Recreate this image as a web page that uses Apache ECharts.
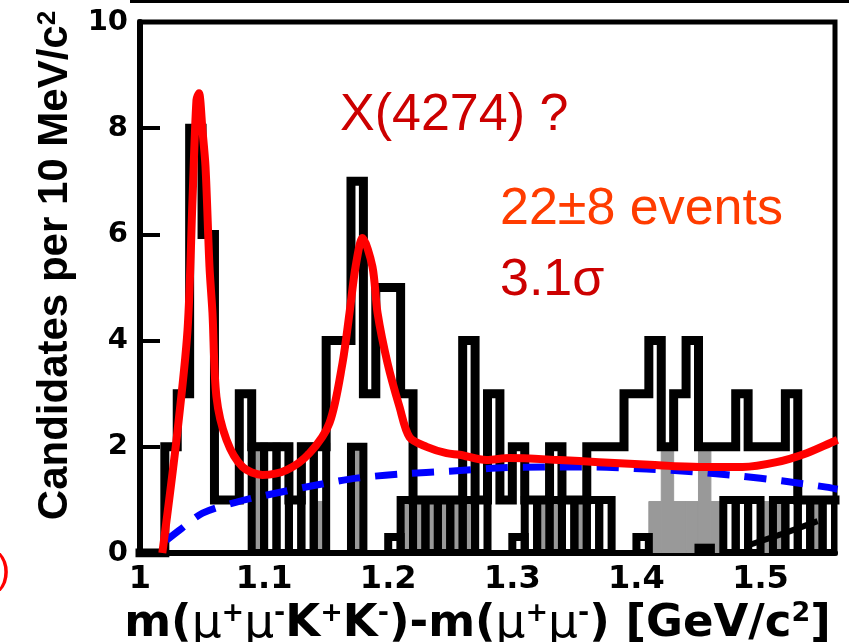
<!DOCTYPE html>
<html><head><meta charset="utf-8">
<script src="https://cdn.jsdelivr.net/npm/echarts@6/dist/echarts.min.js"></script>
<style>html,body{margin:0;padding:0;background:#fff}#c{width:849px;height:642px}</style>
</head><body><div id="c"></div><script>
// bins of 10 MeV/c^2 (lower edges, GeV/c^2)
const binLow = [1.00,1.01,1.02,1.03,1.04,1.05,1.06,1.07,1.08,1.09,
  1.10,1.11,1.12,1.13,1.14,1.15,1.16,1.17,1.18,1.19,
  1.20,1.21,1.22,1.23,1.24,1.25,1.26,1.27,1.28,1.29,
  1.30,1.31,1.32,1.33,1.34,1.35,1.36,1.37,1.38,1.39,
  1.40,1.41,1.42,1.43,1.44,1.45,1.46,1.47,1.48,1.49,
  1.50,1.51,1.52,1.53,1.54,1.55];
const binWidth = 0.01;
// candidates (black step histogram)
const totalCounts = [0,0,2,3,8,6,1,1,3,2,
  2,2,1,2,2,4,4,7,3,5,
  5,3,1,1,1,1,4,1,3,1,
  2,1,1,2,1,1,2,2,2,3,
  3,4,2,3,4,2,2,2,3,2,
  2,2,3,1,1,1];
// second (outlined bar) histogram
const subsetCounts = [0,0,0,0,0,0,0,0,0,2,
  2,2,1,2,2,0,0,2,0,0,
  0.3,1,1,1,1,1,1,1,0,0,
  0.3,1,1,1,1,1,1,1,0,0,
  0.3,0,0,0,0,0.1,0,1,1,1,
  0,1,1,1,1,1];
// sideband (grey filled histogram)
const sidebandCounts = [0,0,0,0,0,0,0,0,0,1.94,
  0,0,0,0,0.97,0,0,1.94,0,0,
  0,0.97,0.97,0.97,0.97,0.97,0.97,0,0,0,
  0,0,0.97,0.97,0,0.97,0,0,0,0,
  0,0.97,1.94,0.97,0.97,1.94,0.97,0,0,0,
  0.97,0.97,0,0,0.97,0];
// total fit (red)
const fitMass = [1.018,1.0294,1.0383,1.0423,1.0455,1.0475,1.0503,1.0528,1.056,1.0584,1.0616,1.0697,1.0826,1.0987,1.118,1.1366,1.1527,1.1632,1.1688,1.1737,1.1793,1.1873,1.1914,1.1994,1.2091,1.2172,1.231,1.247,1.2575,1.2792,1.2978,1.338,1.37,1.4106,1.4509,1.4855,1.5129,1.5371,1.558,1.562];
const fitValue = [0,2.13,4.2,6.65,8.53,8.66,7.97,7.27,5.39,4.52,2.94,2.13,1.62,1.47,1.56,1.88,2.45,3.58,4.52,5.39,5.93,5.39,4.52,3.58,2.75,2.18,2.0,1.88,1.85,1.75,1.79,1.75,1.71,1.66,1.62,1.62,1.71,1.88,2.09,2.13];
// background (blue dashed)
const bkgMass = [1.0214,1.0318,1.0504,1.0778,1.11,1.1423,1.1745,1.2115,1.2494,1.2873,1.3275,1.3646,1.4081,1.4452,1.4831,1.5169,1.5532,1.562];
const bkgValue = [0.24,0.43,0.75,0.96,1.13,1.28,1.41,1.49,1.54,1.6,1.62,1.62,1.58,1.53,1.45,1.36,1.24,1.2];
// black component at high mass
const reflMass = [1.492,1.520,1.546];
const reflValue = [0.16,0.38,0.6];
const xTickLabels = ['1','1.1','1.2','1.3','1.4','1.5'];

function histItem(style){
  return function(params, api){
    const lo = api.value(0), hi = api.value(1), v = api.value(2);
    if (!(v > 0)) return null;
    const p0 = api.coord([lo, v]);
    const p1 = api.coord([hi, 0]);
    return {type:'rect', shape:{x:p0[0], y:p0[1], width:p1[0]-p0[0], height:p1[1]-p0[1]}, style: style};
  };
}
const histData = counts => binLow.map((lo,i)=>[lo, +(lo+binWidth).toFixed(2), counts[i]]);
const stepData = binLow.map((lo,i)=>[lo, totalCounts[i]]).concat([[1.56, totalCounts[totalCounts.length-1]]]);

const chart = echarts.init(document.getElementById('c'), null, {renderer:'canvas'});
chart.setOption({
  animation:false,
  backgroundColor:'#fff',
  grid:{left:140, right:14, top:22, bottom:89, containLabel:false, outerBoundsMode:'none',
    show:true, borderColor:'#000', borderWidth:5, backgroundColor:'transparent'},
  xAxis:{type:'value', min:1, max:1.56, interval:0.1,
    axisLine:{show:true, onZero:false, lineStyle:{color:'#000', width:6}},
    axisTick:{show:false}, splitLine:{show:false},
    axisLabel:{showMaxLabel:false, margin:11, color:'#000', fontFamily:'DejaVu Sans', fontWeight:'bold', fontSize:32,
      formatter:function(v){ const k = Math.round((v-1)/0.1); return (Math.abs(v-(1+k*0.1))<1e-6 && xTickLabels[k]) ? xTickLabels[k] : ''; }},
    name:'{b|m(}{mu|μ}{sup|+}{mu|μ}{sup|-}{b|K}{sup|+}{b|K}{sup|-}{b|)-m(}{mu|μ}{sup|+}{mu|μ}{sup|-}{b|) [GeV/c}{sup|2}{b|]}',
    nameLocation:'middle', nameGap:40,
    nameTextStyle:{padding:[0,20,0,0], rich:{
      b:{fontFamily:'DejaVu Sans', fontWeight:'bold', fontSize:45, color:'#000'},
      mu:{fontFamily:'DejaVu Sans', fontWeight:'normal', fontSize:47, color:'#000'},
      sup:{fontFamily:'DejaVu Sans', fontWeight:'bold', fontSize:27, color:'#000', verticalAlign:'top'}
    }}
  },
  yAxis:{type:'value', min:0, max:10, interval:2,
    axisLine:{show:true, lineStyle:{color:'#000', width:6}},
    axisTick:{show:true, inside:true, length:20, lineStyle:{color:'#000', width:4}},
    splitLine:{show:false},
    axisLabel:{margin:12, color:'#000', fontFamily:'DejaVu Sans', fontWeight:'bold', fontSize:29},
    name:'{b|Candidates per 10 MeV/c}{sup|2}', nameLocation:'middle', nameGap:60,
    nameTextStyle:{padding:[0,0,0,44], rich:{
      b:{fontFamily:'Liberation Sans', fontWeight:'bold', fontSize:42, color:'#000'},
      sup:{fontFamily:'Liberation Sans', fontWeight:'bold', fontSize:26, color:'#000', verticalAlign:'top'}
    }}
  },
  series:[
    {type:'custom', name:'sideband', z:2, clip:true, data:histData(sidebandCounts), encode:{x:[0,1], y:2},
      renderItem:histItem({fill:'#999999', stroke:'#999999', lineWidth:1})},
    {type:'custom', name:'subset', z:3, clip:true, data:histData(subsetCounts), encode:{x:[0,1], y:2},
      renderItem:histItem({fill:'none', stroke:'#000', lineWidth:8})},
    {type:'line', name:'candidates', z:4, step:'end', symbol:'none', data:stepData,
      lineStyle:{color:'#000', width:9, join:'miter', cap:'square'}},
    {type:'line', name:'background', z:5, symbol:'none', smooth:0.3, data:bkgMass.map((m,i)=>[m,bkgValue[i]]),
      lineStyle:{color:'#0000ff', width:7, type:[22,15]}},
    {type:'line', name:'component', z:5, symbol:'none', data:reflMass.map((m,i)=>[m,reflValue[i]]),
      lineStyle:{color:'#000', width:6}},
    {type:'line', name:'fit', z:6, symbol:'none', smooth:0.3, data:fitMass.map((m,i)=>[m,fitValue[i]]),
      lineStyle:{color:'#ff0000', width:8, join:'round'}}
  ],
  graphic:[
    {type:'rect', shape:{x:130, y:0, width:719, height:3}, style:{fill:'#000'}},
    {type:'text', x:340, y:116, style:{text:'X(4274) ?', fontFamily:'Liberation Sans', fontSize:52, fill:'#cc0000', verticalAlign:'middle', align:'left'}},
    {type:'text', x:500, y:210, style:{text:'22±8 events', fontFamily:'Liberation Sans', fontSize:52, fill:'#ff3c00', verticalAlign:'middle', align:'left'}},
    {type:'text', x:500, y:281, style:{text:'3.1σ', fontFamily:'Liberation Sans', fontSize:52, fill:'#cc0000', verticalAlign:'middle', align:'left'}},
    {type:'text', x:-3, y:572, style:{text:')', fontFamily:'Liberation Sans', fontSize:40, fill:'#ff0000', verticalAlign:'middle', align:'left'}}
  ]
});
</script></body></html>
